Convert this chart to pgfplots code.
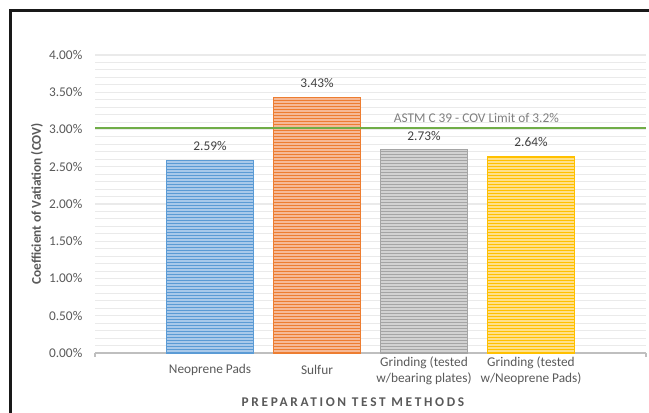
\documentclass[border=0pt]{standalone}
\usepackage{pgfplots}
\pgfplotsset{compat=1.18}
\usetikzlibrary{patterns}
\usepackage{fontspec}
\setmainfont{Carlito}
\pgfkeys{/pgf/number format/assume math mode=true}
\definecolor{txt}{HTML}{595959}
\definecolor{lbl}{HTML}{404040}
\definecolor{astm}{HTML}{7F7F7F}
\definecolor{gridgray}{HTML}{EAEAEA}
\definecolor{axisgray}{HTML}{BFBFBF}
\definecolor{limgreen}{HTML}{70AD47}
\definecolor{cblue}{HTML}{5B9BD5}
\definecolor{cblueL}{HTML}{A9C9EA}
\definecolor{corange}{HTML}{ED7D31}
\definecolor{corangeL}{HTML}{F6B996}
\definecolor{cgray}{HTML}{A5A5A5}
\definecolor{cgrayL}{HTML}{D2D2D2}
\definecolor{cgold}{HTML}{FFC000}
\definecolor{cgoldL}{HTML}{FFE08A}
\pgfdeclarepatternformonly{hstripes}{\pgfpoint{-1pt}{0pt}}{\pgfpoint{501pt}{2.25pt}}{\pgfpoint{500pt}{2.25pt}}{%
  \pgfsetlinewidth{0.8pt}%
  \pgfpathmoveto{\pgfpoint{-1pt}{0.6pt}}%
  \pgfpathlineto{\pgfpoint{501pt}{0.6pt}}%
  \pgfusepath{stroke}}
\newcommand{\fs}{\fontsize{10}{12}\selectfont}
\begin{document}
\begin{tikzpicture}
\useasboundingbox (-71.25pt,-45pt) rectangle (415.5pt,264.75pt);
\begin{axis}[
  at={(0pt,0pt)}, anchor=south west,
  scale only axis, width=413.25pt, height=223.5pt,
  xmin=-1.075, xmax=4.075, ymin=0, ymax=4,
  axis x line*=bottom, axis y line*=left,
  y axis line style={draw=none},
  x axis line style={draw=axisgray, line width=1.5pt},
  xtick={0,1,2,3},
  xticklabels={Neoprene Pads, Sulfur, {Grinding (tested\\w/bearing plates)}, {Grinding (tested\\w/Neoprene Pads)}},
  xticklabel style={align=center, anchor=center, yshift=-13pt, font=\fs, text=txt},
  major tick length=0pt, minor tick length=0pt,
  extra x ticks={-1.075,4.075}, extra x tick labels={},
  extra x tick style={major tick length=3pt, tick align=outside, tick style={draw=axisgray, line width=1.2pt}},
  ytick={0,0.5,1,1.5,2,2.5,3,3.5,4},
  minor y tick num=4,
  ymajorgrids, yminorgrids,
  major grid style={draw=gridgray, line width=0.8pt},
  minor grid style={draw=gridgray, line width=0.8pt},
  yticklabel={\pgfmathprintnumber[fixed,fixed zerofill,precision=2]{\tick}\%},
  yticklabel style={font=\fs, text=txt, xshift=-6pt},
  clip=false,
  every node near coord/.append style={font=\fs, text=lbl, yshift=3.5pt},
]
\addplot[ybar, bar width=65.25pt, bar shift=0pt, draw=cblue, fill=cblueL,
  postaction={pattern=hstripes, pattern color=cblue},
  nodes near coords={\pgfmathprintnumber[fixed,fixed zerofill,precision=2]{\pgfplotspointmeta}\%}]
  coordinates {(0,2.59)};
\addplot[ybar, bar width=65.25pt, bar shift=0pt, draw=corange, fill=corangeL,
  postaction={pattern=hstripes, pattern color=corange},
  nodes near coords={\pgfmathprintnumber[fixed,fixed zerofill,precision=2]{\pgfplotspointmeta}\%}]
  coordinates {(1,3.43)};
\addplot[ybar, bar width=65.25pt, bar shift=0pt, draw=cgray, fill=cgrayL,
  postaction={pattern=hstripes, pattern color=cgray},
  nodes near coords={\pgfmathprintnumber[fixed,fixed zerofill,precision=2]{\pgfplotspointmeta}\%}]
  coordinates {(2,2.73)};
\addplot[ybar, bar width=65.25pt, bar shift=0pt, draw=cgold, fill=cgoldL,
  postaction={pattern=hstripes, pattern color=cgold},
  nodes near coords={\pgfmathprintnumber[fixed,fixed zerofill,precision=2]{\pgfplotspointmeta}\%}]
  coordinates {(3,2.64)};
\addplot[limgreen, line width=1.9pt, mark=none] coordinates {(-1.075,3.02) (4.075,3.02)};
\node[font=\fs, text=astm] at (axis cs:2.49,3.154) {ASTM C 39 - COV Limit of 3.2\%};
\end{axis}
\node[rotate=90, font=\fs\bfseries, text=txt] at (-43.5pt,111.75pt) {Coefficient of Vatiation (COV)};
\node[font=\fs\bfseries\addfontfeature{LetterSpace=20}, text=txt] at (193.5pt,-36.75pt) {PREPARATION TEST METHODS};
\draw[line width=1.9pt, black!90] (-63.375pt,-45pt) -- (-63.375pt,256.875pt) -- (415.5pt,256.875pt);
\end{tikzpicture}
\end{document}
